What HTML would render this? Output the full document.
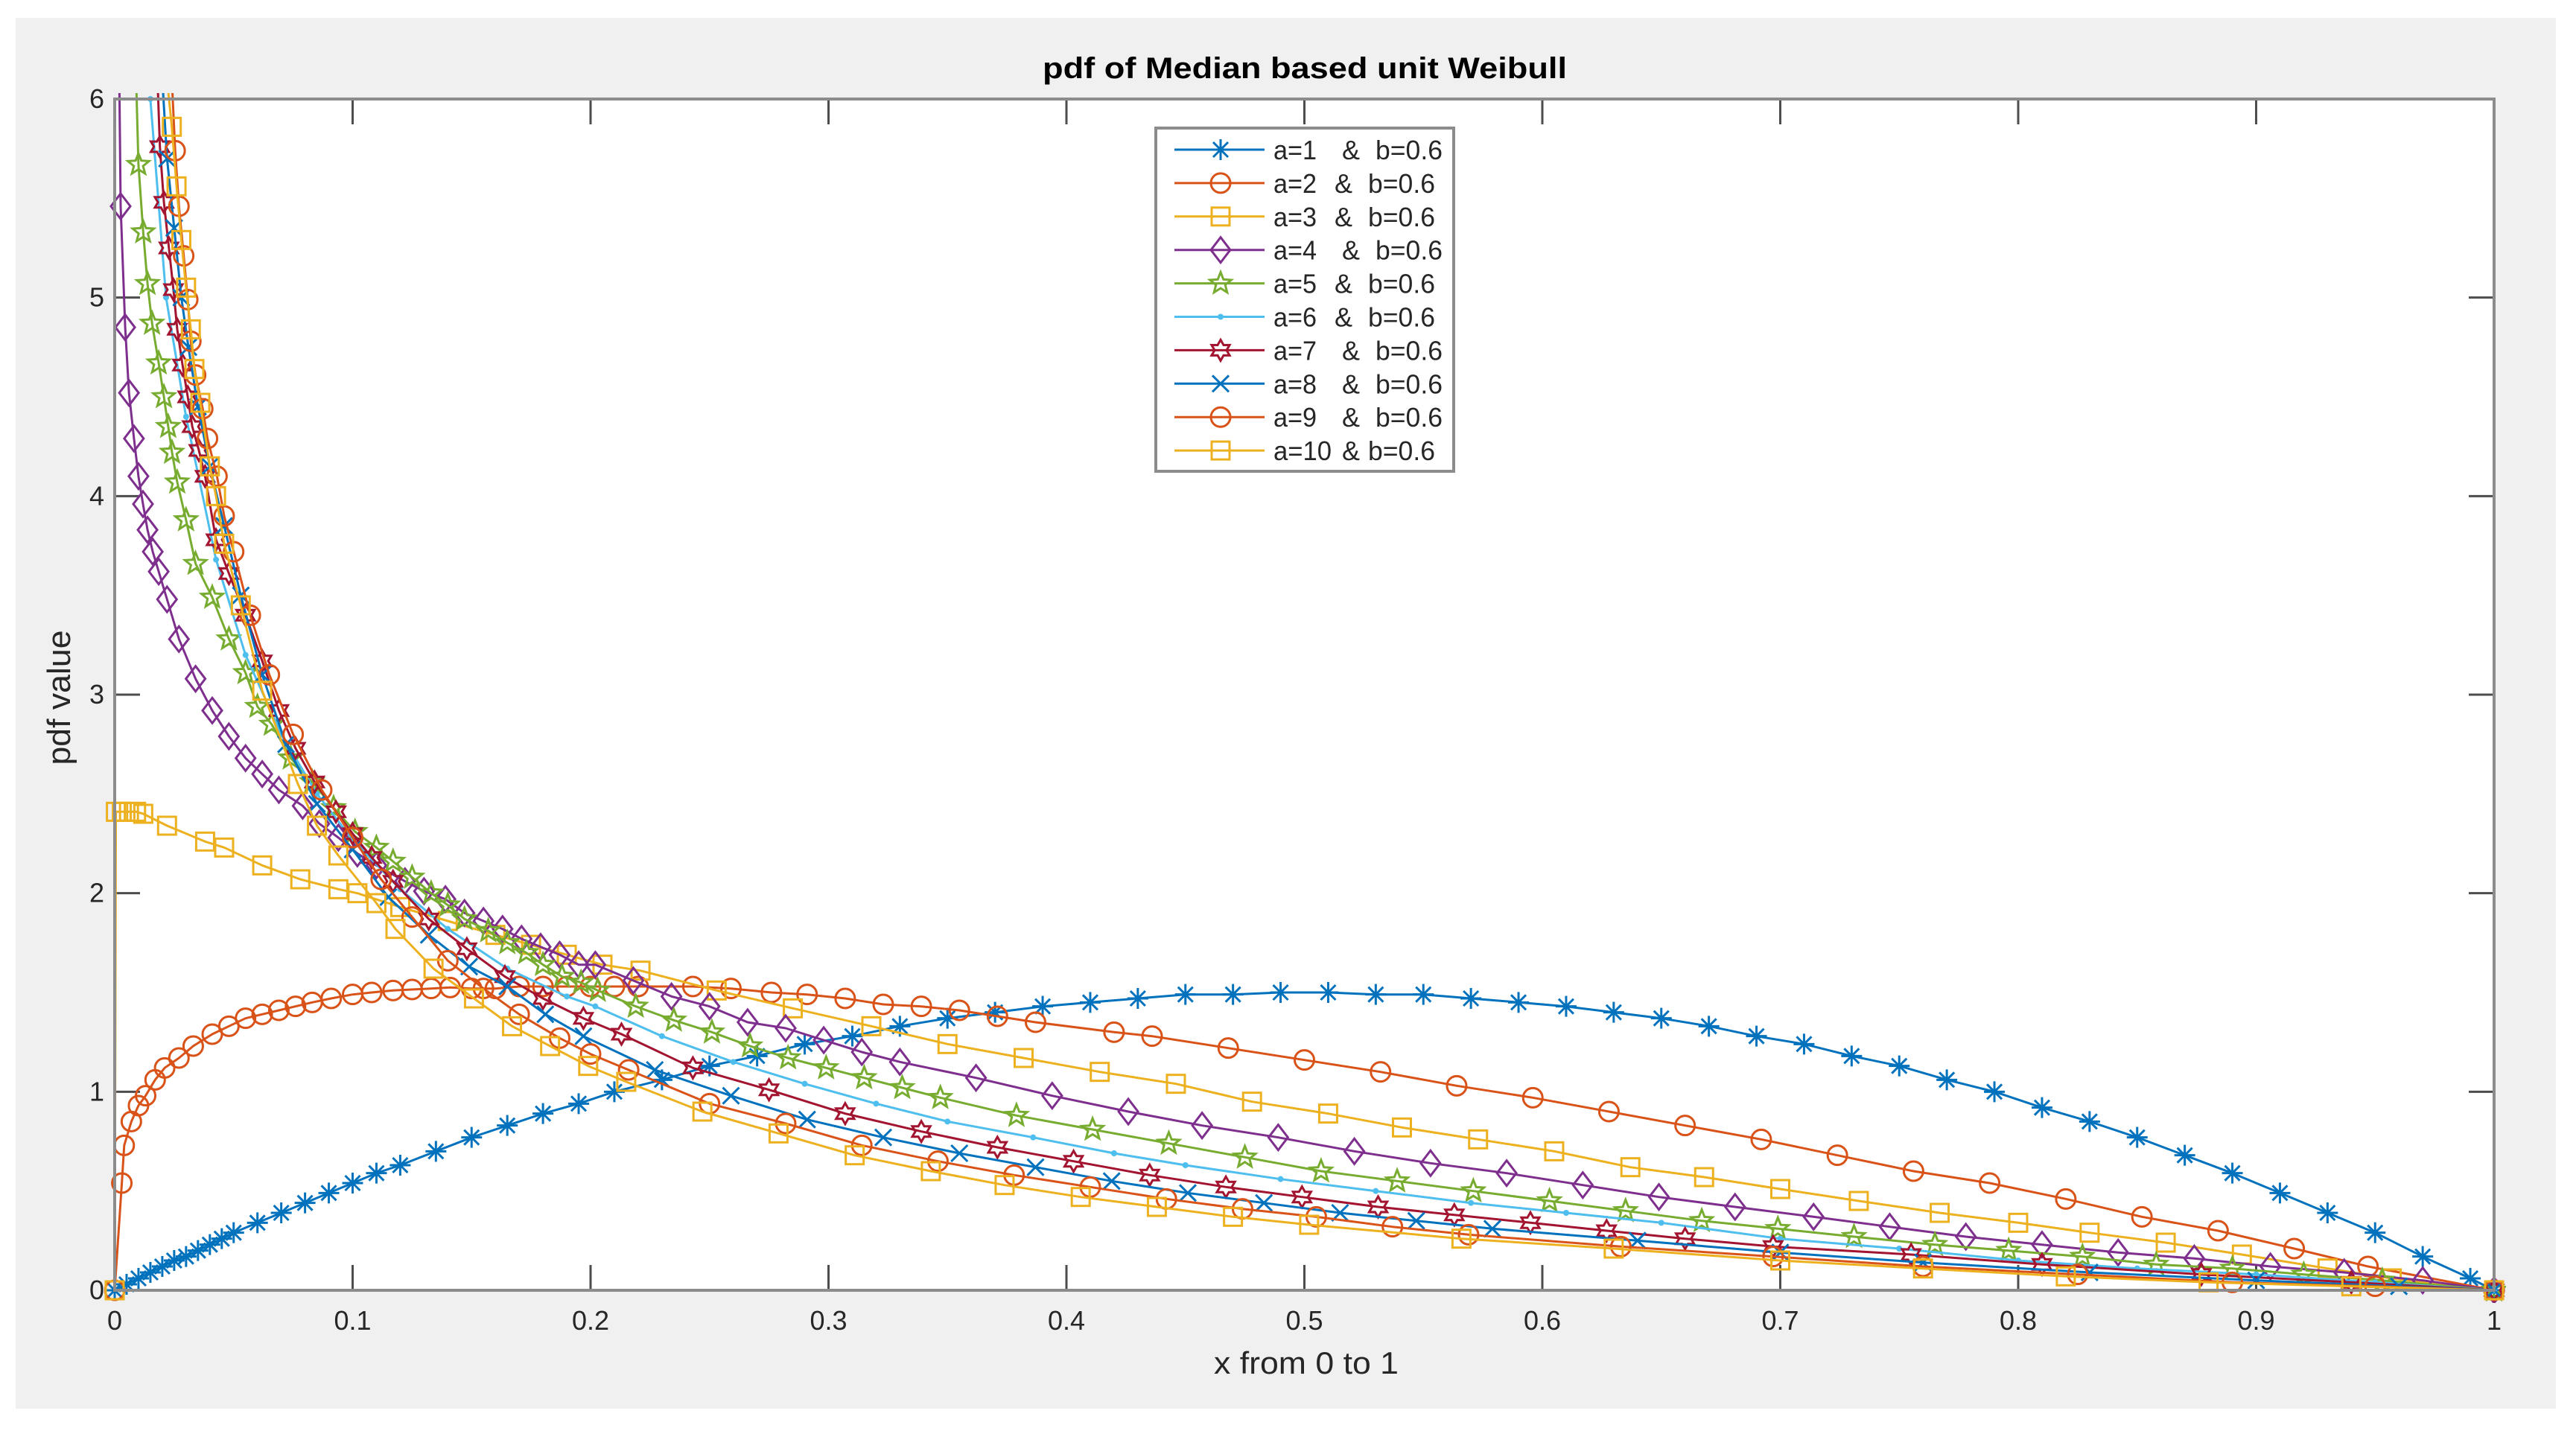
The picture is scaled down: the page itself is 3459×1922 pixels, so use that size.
<!DOCTYPE html>
<html><head><meta charset="utf-8">
<style>
html,body{margin:0;padding:0;background:#fff;}
svg{display:block;}
text{font-family:"Liberation Sans",Arial,sans-serif;fill:#262626;}
</style></head>
<body>
<svg id="chart" width="3459" height="1922" viewBox="0 0 3459 1922" xmlns="http://www.w3.org/2000/svg">
  <rect x="21" y="24" width="3411" height="1868" fill="#f0f0f0"/>
  <rect x="154" y="133" width="3195" height="1600" fill="#ffffff"/>
  <defs><clipPath id="clip"><rect x="140" y="125" width="3225" height="1625"/></clipPath></defs>
  <g id="grid-ticks"></g>
  <g id="series" clip-path="url(#clip)"></g>
  <rect x="154" y="133" width="3195" height="1600" fill="none" stroke="#8c8c8c" stroke-width="4"/>
  <g id="labels"></g>
  <text x="1752" y="105" text-anchor="middle" font-size="40" font-weight="bold" fill="#000" textLength="704" lengthAdjust="spacingAndGlyphs" style="fill:#000">pdf of Median based unit Weibull</text>
  <text x="1754" y="1845" text-anchor="middle" font-size="42" textLength="248" lengthAdjust="spacingAndGlyphs">x from 0 to 1</text>
  <text transform="translate(94,937) rotate(-90)" text-anchor="middle" font-size="44" textLength="181" lengthAdjust="spacingAndGlyphs">pdf value</text>
  <g id="legend"></g>
</svg>
<script>
const categoriesA = [1,2,3,4,5,6,7,8,9,10];
const xTicks = [0,0.1,0.2,0.3,0.4,0.5,0.6,0.7,0.8,0.9,1];
const xTickLabels = ["0","0.1","0.2","0.3","0.4","0.5","0.6","0.7","0.8","0.9","1"];
const yTicks = [0,1,2,3,4,5,6];
const yTickLabels = ["0","1","2","3","4","5","6"];

const xs1 = [0,.005,.01,.015,.02,.025,.03,.035,.04,.045,.05,.06,.07,.08,.09,.1,.11,.12,.135,.15,.165,.18,.195,.21,.23,.25,.27,.29,.31,.33,.35,.37,.39,.41,.43,.45,.47,.49,.51,.53,.55,.57,.59,.61,.63,.65,.67,.69,.71,.73,.75,.77,.79,.81,.83,.85,.87,.89,.91,.93,.95,.97,.99,1];
const ys1 = [0,.03,.06,.09,.12,.15,.17,.20,.23,.26,.29,.34,.39,.44,.49,.54,.59,.63,.70,.77,.83,.89,.94,1.00,1.06,1.13,1.18,1.24,1.28,1.33,1.37,1.40,1.43,1.45,1.47,1.49,1.49,1.50,1.50,1.49,1.49,1.47,1.45,1.43,1.40,1.37,1.33,1.28,1.24,1.18,1.13,1.06,1.00,.92,.85,.77,.68,.59,.49,.39,.29,.17,.06,0];

const xs2 = [0,.003,.004,.007,.01,.013,.017,.021,.027,.033,.041,.048,.055,.062,.069,.076,.083,.091,.1,.108,.117,.125,.133,.141,.15,.16,.17,.18,.19,.2,.21,.22,.243,.259,.276,.291,.307,.323,.339,.355,.371,.387,.42,.436,.468,.5,.532,.564,.596,.628,.66,.692,.724,.756,.788,.82,.852,.884,.916,.947,1];
const ys2 = [0,.54,.73,.85,.93,.98,1.06,1.12,1.17,1.23,1.29,1.33,1.37,1.39,1.41,1.43,1.45,1.47,1.49,1.50,1.51,1.515,1.52,1.525,1.52,1.52,1.53,1.53,1.53,1.53,1.53,1.53,1.53,1.52,1.50,1.49,1.47,1.44,1.43,1.41,1.38,1.35,1.30,1.28,1.22,1.16,1.10,1.03,.97,.90,.83,.76,.68,.60,.54,.46,.37,.30,.21,.12,0];

const xs3 = [0,.0005,.003,.006,.009,.012,.022,.038,.046,.062,.078,.094,.102,.12,.14,.16,.175,.19,.205,.221,.253,.285,.318,.35,.382,.414,.446,.478,.51,.541,.573,.605,.637,.668,.7,.733,.767,.8,.83,.862,.894,.93,.957,1];
const ys3 = [0,2.41,2.41,2.41,2.41,2.40,2.34,2.26,2.23,2.14,2.07,2.02,2.00,1.93,1.86,1.79,1.74,1.69,1.64,1.61,1.51,1.42,1.33,1.24,1.17,1.10,1.04,.95,.89,.82,.76,.70,.62,.57,.51,.45,.39,.34,.29,.24,.18,.11,.06,0];

const xs4 = [.0015,.0025,.0044,.006,.0081,.010,.0119,.0138,.016,.0185,.022,.027,.034,.041,.048,.055,.062,.069,.079,.086,.094,.102,.11,.122,.13,.139,.147,.155,.163,.171,.179,.187,.195,.202,.218,.234,.25,.266,.282,.298,.314,.33,.362,.394,.426,.457,.489,.521,.553,.585,.617,.649,.681,.714,.746,.778,.81,.842,.874,.906,.937,.97,1];
const ys4 = [6.6,5.46,4.85,4.52,4.29,4.10,3.96,3.83,3.72,3.62,3.48,3.28,3.08,2.92,2.79,2.68,2.60,2.52,2.44,2.35,2.28,2.20,2.14,2.06,2.01,1.97,1.90,1.86,1.82,1.77,1.73,1.69,1.64,1.64,1.56,1.48,1.43,1.35,1.32,1.26,1.20,1.15,1.07,.98,.90,.83,.77,.70,.64,.59,.53,.47,.42,.37,.32,.27,.23,.19,.16,.12,.09,.05,0];

const xs5 = [.009,.010,.012,.0138,.0157,.0185,.0207,.0225,.0241,.0263,.030,.034,.041,.048,.055,.060,.066,.074,.083,.092,.101,.110,.117,.125,.133,.140,.147,.157,.165,.173,.180,.188,.196,.203,.219,.235,.251,.267,.283,.299,.315,.331,.347,.379,.411,.443,.475,.507,.539,.571,.603,.635,.667,.699,.731,.765,.796,.827,.858,.89,.92,.953,1];
const ys5 = [6.1,5.67,5.33,5.07,4.87,4.67,4.50,4.35,4.22,4.07,3.88,3.66,3.49,3.28,3.11,2.94,2.85,2.68,2.56,2.43,2.31,2.23,2.16,2.08,2.00,1.94,1.87,1.81,1.75,1.70,1.64,1.58,1.55,1.51,1.43,1.36,1.30,1.23,1.17,1.12,1.07,1.02,.97,.88,.81,.74,.67,.60,.55,.50,.45,.40,.35,.31,.27,.23,.20,.17,.13,.11,.08,.05,0];

const xs6 = [.015,.0216,.03,.0426,.055,.07,.085,.1,.12,.14,.165,.19,.202,.23,.26,.29,.32,.35,.386,.42,.45,.49,.53,.57,.61,.65,.70,.75,.8,.85,.9,.95,1];
const ys6 = [6.0,5.0,4.4,3.68,3.2,2.8,2.5,2.27,2.02,1.82,1.62,1.48,1.43,1.28,1.15,1.04,.94,.85,.77,.69,.63,.56,.50,.44,.39,.34,.26,.21,.15,.11,.08,.04,0];

const xs7 = [.018,.019,.0207,.0228,.0247,.0263,.0285,.0307,.0326,.0354,.038,.0426,.048,.055,.062,.069,.076,.084,.093,.100,.108,.117,.132,.148,.164,.180,.197,.213,.243,.275,.307,.339,.371,.403,.435,.467,.499,.531,.563,.595,.627,.66,.697,.755,.81,.877,.94,1];
const ys7 = [6.1,5.76,5.48,5.25,5.04,4.84,4.66,4.50,4.35,4.23,4.10,3.78,3.61,3.40,3.17,2.92,2.73,2.56,2.41,2.30,2.18,2.06,1.87,1.72,1.58,1.47,1.37,1.29,1.12,1.01,.89,.80,.72,.65,.58,.52,.47,.42,.38,.34,.30,.26,.22,.18,.13,.08,.04,0];

const xs8 = [.02,.022,.025,.028,.031,.035,.04,.046,.053,.062,.072,.085,.1,.115,.132,.149,.165,.181,.197,.227,.259,.291,.323,.355,.387,.419,.451,.483,.515,.547,.579,.64,.70,.76,.83,.9,.96,1];
const ys8 = [6.1,5.7,5.35,5.0,4.75,4.45,4.15,3.85,3.5,3.1,2.75,2.45,2.22,1.98,1.79,1.63,1.53,1.39,1.28,1.11,.98,.86,.77,.69,.62,.55,.49,.44,.39,.35,.31,.25,.19,.14,.09,.05,.02,0];

const xs9 = [.024,.0254,.027,.029,.0307,.032,.034,.037,.039,.043,.046,.05,.057,.065,.075,.087,.1,.112,.125,.14,.155,.17,.187,.2,.216,.25,.282,.314,.346,.378,.41,.442,.474,.505,.537,.569,.633,.697,.76,.825,.89,.95,1];
const ys9 = [6.1,5.74,5.46,5.21,4.99,4.78,4.61,4.44,4.29,4.10,3.90,3.72,3.40,3.10,2.80,2.52,2.28,2.07,1.88,1.66,1.52,1.39,1.27,1.19,1.11,.94,.84,.73,.65,.58,.52,.46,.41,.37,.32,.28,.22,.17,.12,.08,.04,.02,0];

const xs10 = [.022,.024,.026,.028,.030,.032,.0335,.036,.040,.0426,.046,.053,.062,.077,.085,.094,.110,.118,.134,.151,.167,.183,.199,.215,.247,.279,.311,.343,.374,.406,.438,.47,.502,.566,.63,.7,.76,.82,.88,.94,1];
const ys10 = [6.1,5.86,5.56,5.29,5.05,4.84,4.64,4.47,4.15,4.00,3.76,3.45,3.02,2.55,2.34,2.19,1.95,1.82,1.62,1.47,1.33,1.23,1.13,1.05,.90,.79,.68,.60,.53,.47,.42,.37,.33,.26,.21,.15,.11,.07,.04,.02,0];

const seriesX = [xs1,xs2,xs3,xs4,xs5,xs6,xs7,xs8,xs9,xs10];
const seriesY = [ys1,ys2,ys3,ys4,ys5,ys6,ys7,ys8,ys9,ys10];
const colors = ["#0072BD","#D95319","#EDB120","#7E2F8E","#77AC30","#4DBEEE","#A2142F","#0072BD","#D95319","#EDB120"];
const markers = ["asterisk","circle","square","diamond","pentagram","point","hexagram","x","circle","square"];
const legendA = ["a=1","a=2","a=3","a=4","a=5","a=6","a=7","a=8","a=9","a=10"];

const X0=154, X1=3349, Y0=1733, Y1=133, YMAX=6;
function sx(v){return X0+(X1-X0)*v;}
function sy(v){return Y0-(Y0-Y1)*v/YMAX;}
const NS="http://www.w3.org/2000/svg";
function mk(tag,attrs,parent){const e=document.createElementNS(NS,tag);for(const k in attrs)e.setAttribute(k,attrs[k]);parent.appendChild(e);return e;}

function starPts(cx,cy,n,ro,ri,rot){let p=[];for(let i=0;i<2*n;i++){const r=i%2?ri:ro;const a=rot+Math.PI*i/n;p.push((cx+r*Math.sin(a)).toFixed(1)+","+(cy-r*Math.cos(a)).toFixed(1));}return p.join(" ");}
function drawMarker(type,cx,cy,col,parent){
  const g=document.createElementNS(NS,'g');
  g.setAttribute('fill','none');g.setAttribute('stroke',col);g.setAttribute('stroke-width','3');
  parent.appendChild(g);
  if(type==='circle'){mk('circle',{cx:cx,cy:cy,r:13},g);}
  else if(type==='square'){mk('rect',{x:cx-12,y:cy-12,width:24,height:24},g);}
  else if(type==='diamond'){mk('polygon',{points:`${cx},${cy-17} ${cx+13},${cy} ${cx},${cy+17} ${cx-13},${cy}`},g);}
  else if(type==='pentagram'){mk('polygon',{points:starPts(cx,cy,5,15,6.5,0)},g);}
  else if(type==='hexagram'){mk('polygon',{points:starPts(cx,cy,6,14,8,0)},g);}
  else if(type==='point'){const c=mk('circle',{cx:cx,cy:cy,r:4},g);c.setAttribute('fill',col);c.setAttribute('stroke','none');}
  else if(type==='x'){mk('path',{d:`M${cx-11},${cy-11}L${cx+11},${cy+11}M${cx-11},${cy+11}L${cx+11},${cy-11}`},g);}
  else if(type==='asterisk'){mk('path',{d:`M${cx},${cy-14}V${cy+14}M${cx-14},${cy}H${cx+14}M${cx-10},${cy-10}L${cx+10},${cy+10}M${cx-10},${cy+10}L${cx+10},${cy-10}`},g);}
  return g;
}

const tickG=document.getElementById('grid-ticks');
const labG=document.getElementById('labels');
xTicks.forEach((t,i)=>{
  const x=sx(t);
  const a=mk('line',{x1:x,y1:Y0,x2:x,y2:Y0-34,stroke:'#4d4d4d','stroke-width':3},tickG);
  
  const b=mk('line',{x1:x,y1:Y1,x2:x,y2:Y1+34,stroke:'#4d4d4d','stroke-width':3},tickG);
  
  const tx=mk('text',{x:x,y:1786,'text-anchor':'middle','font-size':36},labG);
  tx.textContent=xTickLabels[i];
  
  
});
yTicks.forEach((t,i)=>{
  const y=sy(t);
  const a=mk('line',{x1:X0,y1:y,x2:X0+34,y2:y,stroke:'#4d4d4d','stroke-width':3},tickG);
  
  const b=mk('line',{x1:X1,y1:y,x2:X1-34,y2:y,stroke:'#4d4d4d','stroke-width':3},tickG);
  
  const tx=mk('text',{x:140,y:y+12,'text-anchor':'end','font-size':36},labG);
  tx.textContent=yTickLabels[i];
  
  
});

const serG=document.getElementById('series');
seriesX.forEach((xs,si)=>{
  const g=mk('g',{},serG);
  
  
  const ys=seriesY[si];
  const pts=xs.map((x,i)=>sx(x).toFixed(1)+','+sy(ys[i]).toFixed(1)).join(' ');
  const pl=mk('polyline',{points:pts,fill:'none',stroke:colors[si],'stroke-width':3,'stroke-linejoin':'round'},g);
  
  
  xs.forEach((x,i)=>{
    const m=drawMarker(markers[si],sx(x),sy(ys[i]),colors[si],g);
    
    
  });
});

const legG=document.getElementById('legend');
const box=mk('rect',{x:1552,y:172,width:400,height:461,fill:'#fff',stroke:'#8c8c8c','stroke-width':4},legG);


const ampX=[1802,1792,1792,1802,1792,1792,1802,1802,1802,1802];
const bX=[1847,1837,1837,1847,1837,1837,1847,1847,1847,1837];
legendA.forEach((lab,i)=>{
  const cy=201+i*44.9;
  const g=mk('g',{},legG);
  
  
  mk('line',{x1:1577,y1:cy,x2:1698,y2:cy,stroke:colors[i],'stroke-width':3},g);
  drawMarker(markers[i],1639,cy,colors[i],g);
  const t1=mk('text',{x:1710,y:cy+13,'font-size':36,textLength:(lab.length>3?78:58),lengthAdjust:'spacingAndGlyphs'},g);
  t1.textContent=lab;
  const t2=mk('text',{x:ampX[i],y:cy+13,'font-size':36},g);
  t2.textContent='&';
  const t3=mk('text',{x:bX[i],y:cy+13,'font-size':36,textLength:90,lengthAdjust:'spacingAndGlyphs'},g);
  t3.textContent='b=0.6';
});
</script>
</body></html>
